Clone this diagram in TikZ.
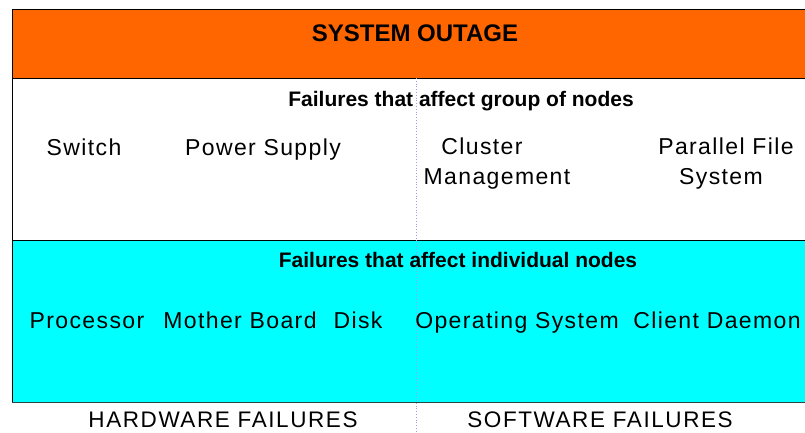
\documentclass[tikz,border=0pt]{standalone}
\usepackage{fontspec}
\setmainfont{Liberation Sans}
\definecolor{outage}{HTML}{FF6600}
\definecolor{indiv}{HTML}{00FFFF}
\definecolor{divider}{HTML}{A0A0E8}
\tikzset{
  lbl/.style={inner sep=0pt, anchor=base, font=\addfontfeature{LetterSpace=6}\fontsize{23}{29}\selectfont},
  head/.style={inner sep=0pt, anchor=base, font=\bfseries\fontsize{21}{24}\selectfont},
  title/.style={inner sep=0pt, anchor=base, font=\bfseries\fontsize{24}{28}\selectfont},
  foot/.style={inner sep=0pt, anchor=base, font=\addfontfeature{LetterSpace=7}\fontsize{22.5}{28}\selectfont},
}
\begin{document}
\begin{tikzpicture}[x=1pt,y=-1pt]
\useasboundingbox (0,0) rectangle (805,432);
% bands
\fill[outage] (12,9) rectangle (810,78);
\fill[white] (12,78) rectangle (810,240);
\fill[indiv] (12,240) rectangle (810,402);
\draw[line width=1pt] (12,9) rectangle (810,78);
\draw[line width=1pt] (12,78) -- (12,402);
\draw[line width=1pt] (12,240) -- (810,240);
\draw[line width=1pt, draw={rgb,255:red,40;green,70;blue,70}] (12,402) -- (810,402);
% divider
\coordinate (dtop) at (416,78);
\coordinate (dbot) at (416,432);
\draw[divider, dotted, line width=0.8pt] (dtop) -- (dbot);
% texts
\node[title] (outage) at (415,41) {SYSTEM OUTAGE};
\node[head] (grp) at (461,106) {Failures that affect group of nodes};
\node[lbl] (switch) at (84,155) {Switch};
\node[lbl] (power) at (263,155) {Power Supply};
\node[lbl] (cluster) at (482,154) {Cluster};
\node[lbl] (mgmt) at (497,184) {Management};
\node[lbl] (pfs) at (726,154) {Parallel File};
\node[lbl] (pfs2) at (721,184) {System};
\node[head] (ind) at (458,267) {Failures that affect individual nodes};
\node[lbl] (proc) at (87,328) {Processor};
\node[lbl] (mb) at (240,328) {Mother Board};
\node[lbl] (disk) at (358,328) {Disk};
\node[lbl] (os) at (517,328) {Operating System};
\node[lbl] (cd) at (717,328) {Client Daemon};
\node[foot] (hw) at (223,427) {HARDWARE FAILURES};
\node[foot] (sw) at (600,427) {SOFTWARE FAILURES};
\end{tikzpicture}
\end{document}
